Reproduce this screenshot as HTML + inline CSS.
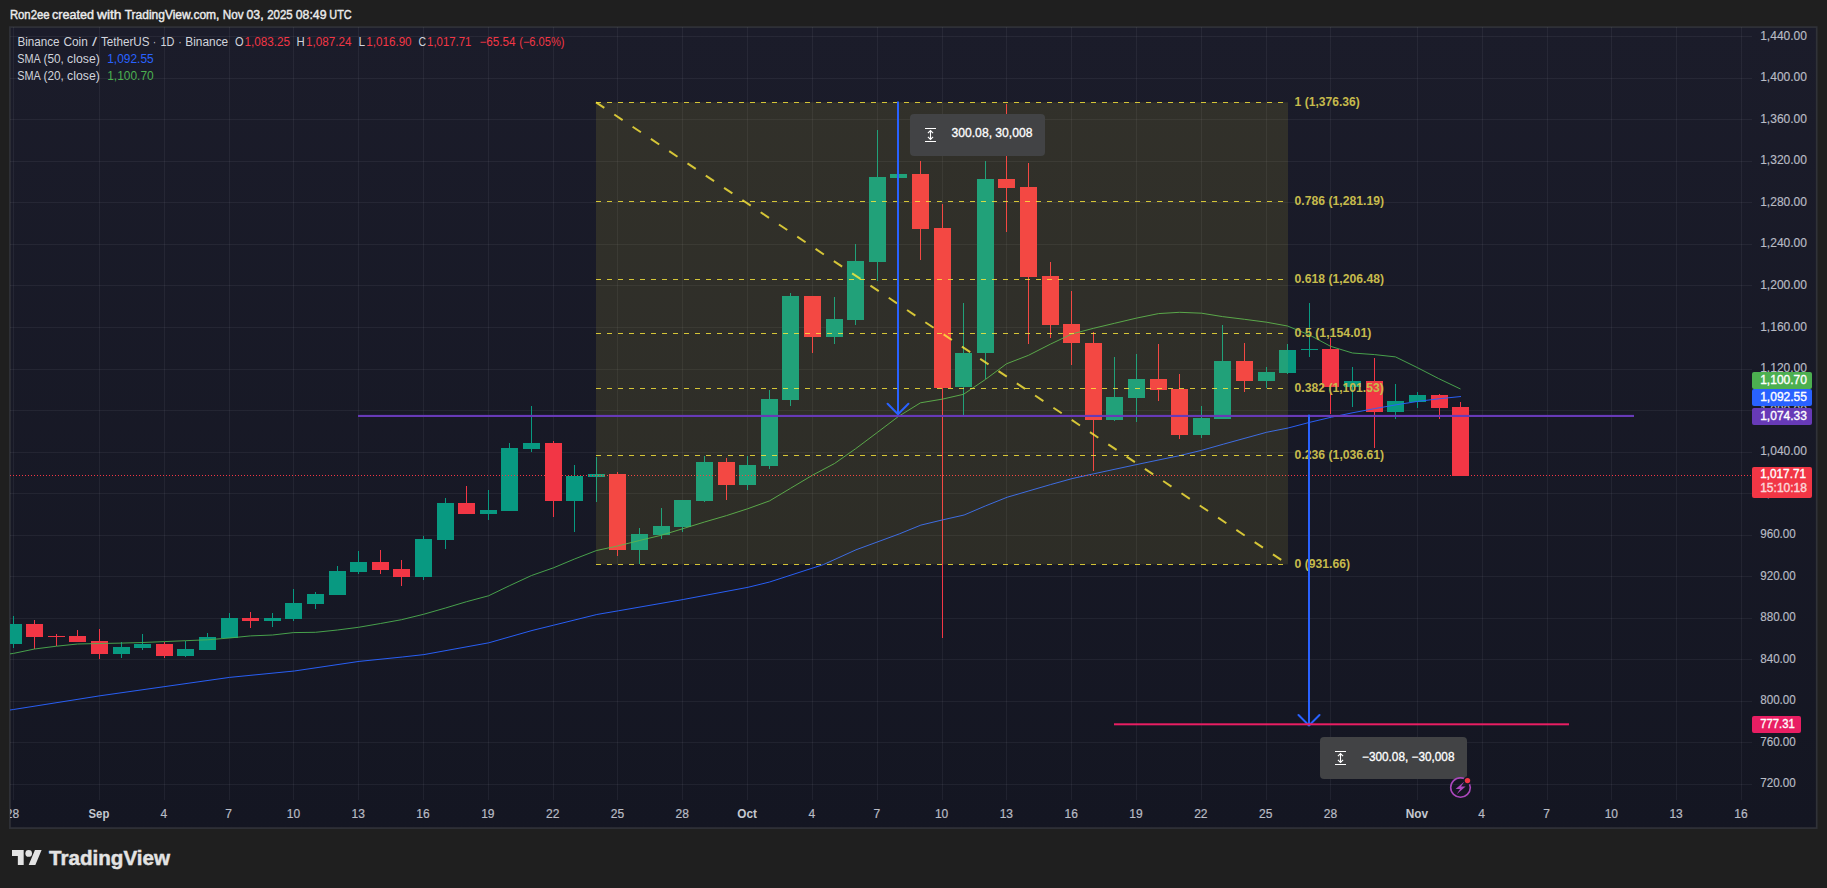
<!DOCTYPE html>
<html lang="en"><head><meta charset="utf-8"><title>BNBUSDT chart</title>
<style>html,body{margin:0;padding:0;background:#1f1f1f;overflow:hidden}body{width:1827px;height:888px;font-family:"Liberation Sans", sans-serif}svg{display:block;font-family:"Liberation Sans", sans-serif}.ce{shape-rendering:crispEdges}</style></head><body>
<svg width="1827" height="888" viewBox="0 0 1827 888">
<defs><linearGradient id="bg" x1="0" y1="0" x2="0" y2="1"><stop offset="0" stop-color="#1b1c2a"/><stop offset="1" stop-color="#141622"/></linearGradient><clipPath id="cp"><rect x="10" y="27" width="1807" height="801"/></clipPath></defs>
<rect width="1827" height="888" fill="#1f1f1f"/>
<rect x="9.9" y="27.1" width="1806.8" height="801" fill="url(#bg)" stroke="#303238" stroke-width="1.7"/>
<text y="18.90" font-size="12" fill="#ececec" stroke="#ececec" stroke-width="0.4"><tspan x="9.90" textLength="39.70" lengthAdjust="spacingAndGlyphs">Ron2ee</tspan> <tspan x="52.10" textLength="41.90" lengthAdjust="spacingAndGlyphs">created</tspan> <tspan x="97.00" textLength="24.50" lengthAdjust="spacingAndGlyphs">with</tspan> <tspan x="124.70" textLength="94.70" lengthAdjust="spacingAndGlyphs">TradingView.com,</tspan> <tspan x="222.80" textLength="20.80" lengthAdjust="spacingAndGlyphs">Nov</tspan> <tspan x="246.50" textLength="17.10" lengthAdjust="spacingAndGlyphs">03,</tspan> <tspan x="267.20" textLength="25.50" lengthAdjust="spacingAndGlyphs">2025</tspan> <tspan x="295.80" textLength="30.70" lengthAdjust="spacingAndGlyphs">08:49</tspan> <tspan x="329.30" textLength="22.30" lengthAdjust="spacingAndGlyphs">UTC</tspan></text>
<g class="ce" fill="#f0f3fa" fill-opacity="0.06">
<rect x="13" y="27" width="1" height="773"/>
<rect x="99" y="27" width="1" height="773"/>
<rect x="164" y="27" width="1" height="773"/>
<rect x="229" y="27" width="1" height="773"/>
<rect x="293" y="27" width="1" height="773"/>
<rect x="358" y="27" width="1" height="773"/>
<rect x="423" y="27" width="1" height="773"/>
<rect x="488" y="27" width="1" height="773"/>
<rect x="553" y="27" width="1" height="773"/>
<rect x="617" y="27" width="1" height="773"/>
<rect x="682" y="27" width="1" height="773"/>
<rect x="747" y="27" width="1" height="773"/>
<rect x="812" y="27" width="1" height="773"/>
<rect x="877" y="27" width="1" height="773"/>
<rect x="942" y="27" width="1" height="773"/>
<rect x="1006" y="27" width="1" height="773"/>
<rect x="1071" y="27" width="1" height="773"/>
<rect x="1136" y="27" width="1" height="773"/>
<rect x="1201" y="27" width="1" height="773"/>
<rect x="1266" y="27" width="1" height="773"/>
<rect x="1330" y="27" width="1" height="773"/>
<rect x="1417" y="27" width="1" height="773"/>
<rect x="1482" y="27" width="1" height="773"/>
<rect x="1547" y="27" width="1" height="773"/>
<rect x="1611" y="27" width="1" height="773"/>
<rect x="1676" y="27" width="1" height="773"/>
<rect x="1741" y="27" width="1" height="773"/>
<rect x="10" y="784" width="1742" height="1"/>
<rect x="10" y="742" width="1742" height="1"/>
<rect x="10" y="701" width="1742" height="1"/>
<rect x="10" y="659" width="1742" height="1"/>
<rect x="10" y="618" width="1742" height="1"/>
<rect x="10" y="576" width="1742" height="1"/>
<rect x="10" y="535" width="1742" height="1"/>
<rect x="10" y="493" width="1742" height="1"/>
<rect x="10" y="452" width="1742" height="1"/>
<rect x="10" y="410" width="1742" height="1"/>
<rect x="10" y="369" width="1742" height="1"/>
<rect x="10" y="327" width="1742" height="1"/>
<rect x="10" y="285" width="1742" height="1"/>
<rect x="10" y="244" width="1742" height="1"/>
<rect x="10" y="202" width="1742" height="1"/>
<rect x="10" y="161" width="1742" height="1"/>
<rect x="10" y="119" width="1742" height="1"/>
<rect x="10" y="78" width="1742" height="1"/>
<rect x="10" y="36" width="1742" height="1"/>
</g>
<g clip-path="url(#cp)">
<g class="ce">
<rect x="13" y="616" width="1" height="32" fill="#089981"/>
<rect x="5" y="624" width="17" height="20" fill="#089981"/>
<rect x="34" y="620" width="1" height="29" fill="#f23645"/>
<rect x="26" y="624" width="17" height="13" fill="#f23645"/>
<rect x="56" y="634" width="1" height="12" fill="#f23645"/>
<rect x="48" y="636" width="17" height="1" fill="#f23645"/>
<rect x="77" y="630" width="1" height="12" fill="#f23645"/>
<rect x="69" y="636" width="17" height="6" fill="#f23645"/>
<rect x="99" y="629" width="1" height="30" fill="#f23645"/>
<rect x="91" y="641" width="17" height="13" fill="#f23645"/>
<rect x="121" y="642" width="1" height="16" fill="#089981"/>
<rect x="113" y="647" width="17" height="7" fill="#089981"/>
<rect x="142" y="634" width="1" height="16" fill="#089981"/>
<rect x="134" y="644" width="17" height="4" fill="#089981"/>
<rect x="164" y="642" width="1" height="16" fill="#f23645"/>
<rect x="156" y="644" width="17" height="12" fill="#f23645"/>
<rect x="185" y="641" width="1" height="16" fill="#089981"/>
<rect x="177" y="649" width="17" height="7" fill="#089981"/>
<rect x="207" y="633" width="1" height="17" fill="#089981"/>
<rect x="199" y="637" width="17" height="13" fill="#089981"/>
<rect x="229" y="613" width="1" height="25" fill="#089981"/>
<rect x="221" y="618" width="17" height="20" fill="#089981"/>
<rect x="250" y="612" width="1" height="16" fill="#f23645"/>
<rect x="242" y="618" width="17" height="3" fill="#f23645"/>
<rect x="272" y="613" width="1" height="14" fill="#089981"/>
<rect x="264" y="618" width="17" height="3" fill="#089981"/>
<rect x="293" y="589" width="1" height="32" fill="#089981"/>
<rect x="285" y="603" width="17" height="16" fill="#089981"/>
<rect x="315" y="592" width="1" height="17" fill="#089981"/>
<rect x="307" y="594" width="17" height="10" fill="#089981"/>
<rect x="337" y="566" width="1" height="29" fill="#089981"/>
<rect x="329" y="571" width="17" height="24" fill="#089981"/>
<rect x="358" y="551" width="1" height="23" fill="#089981"/>
<rect x="350" y="562" width="17" height="10" fill="#089981"/>
<rect x="380" y="550" width="1" height="24" fill="#f23645"/>
<rect x="372" y="562" width="17" height="8" fill="#f23645"/>
<rect x="401" y="560" width="1" height="26" fill="#f23645"/>
<rect x="393" y="569" width="17" height="8" fill="#f23645"/>
<rect x="423" y="536" width="1" height="44" fill="#089981"/>
<rect x="415" y="539" width="17" height="38" fill="#089981"/>
<rect x="445" y="498" width="1" height="51" fill="#089981"/>
<rect x="437" y="503" width="17" height="37" fill="#089981"/>
<rect x="466" y="486" width="1" height="28" fill="#f23645"/>
<rect x="458" y="503" width="17" height="11" fill="#f23645"/>
<rect x="488" y="490" width="1" height="30" fill="#089981"/>
<rect x="480" y="510" width="17" height="4" fill="#089981"/>
<rect x="509" y="443" width="1" height="68" fill="#089981"/>
<rect x="501" y="448" width="17" height="63" fill="#089981"/>
<rect x="531" y="406" width="1" height="46" fill="#089981"/>
<rect x="523" y="443" width="17" height="6" fill="#089981"/>
<rect x="553" y="441" width="1" height="76" fill="#f23645"/>
<rect x="545" y="443" width="17" height="58" fill="#f23645"/>
<rect x="574" y="465" width="1" height="67" fill="#089981"/>
<rect x="566" y="476" width="17" height="25" fill="#089981"/>
<rect x="596" y="457" width="1" height="45" fill="#089981"/>
<rect x="588" y="474" width="17" height="3" fill="#089981"/>
<rect x="617" y="472" width="1" height="84" fill="#f23645"/>
<rect x="609" y="474" width="17" height="76" fill="#f23645"/>
<rect x="639" y="528" width="1" height="36" fill="#089981"/>
<rect x="631" y="534" width="17" height="16" fill="#089981"/>
<rect x="661" y="508" width="1" height="31" fill="#089981"/>
<rect x="653" y="526" width="17" height="9" fill="#089981"/>
<rect x="682" y="500" width="1" height="32" fill="#089981"/>
<rect x="674" y="500" width="17" height="27" fill="#089981"/>
<rect x="704" y="456" width="1" height="46" fill="#089981"/>
<rect x="696" y="462" width="17" height="39" fill="#089981"/>
<rect x="726" y="458" width="1" height="42" fill="#f23645"/>
<rect x="718" y="462" width="17" height="23" fill="#f23645"/>
<rect x="747" y="456" width="1" height="34" fill="#089981"/>
<rect x="739" y="465" width="17" height="20" fill="#089981"/>
<rect x="769" y="390" width="1" height="79" fill="#089981"/>
<rect x="761" y="399" width="17" height="67" fill="#089981"/>
<rect x="790" y="293" width="1" height="113" fill="#089981"/>
<rect x="782" y="296" width="17" height="104" fill="#089981"/>
<rect x="812" y="296" width="1" height="57" fill="#f23645"/>
<rect x="804" y="296" width="17" height="41" fill="#f23645"/>
<rect x="834" y="297" width="1" height="47" fill="#089981"/>
<rect x="826" y="319" width="17" height="18" fill="#089981"/>
<rect x="855" y="244" width="1" height="81" fill="#089981"/>
<rect x="847" y="261" width="17" height="59" fill="#089981"/>
<rect x="877" y="130" width="1" height="151" fill="#089981"/>
<rect x="869" y="177" width="17" height="85" fill="#089981"/>
<rect x="898" y="174" width="1" height="4" fill="#089981"/>
<rect x="890" y="174" width="17" height="4" fill="#089981"/>
<rect x="920" y="161" width="1" height="99" fill="#f23645"/>
<rect x="912" y="174" width="17" height="55" fill="#f23645"/>
<rect x="942" y="204" width="1" height="434" fill="#f23645"/>
<rect x="934" y="228" width="17" height="160" fill="#f23645"/>
<rect x="963" y="303" width="1" height="112" fill="#089981"/>
<rect x="955" y="353" width="17" height="34" fill="#089981"/>
<rect x="985" y="161" width="1" height="218" fill="#089981"/>
<rect x="977" y="179" width="17" height="174" fill="#089981"/>
<rect x="1006" y="104" width="1" height="128" fill="#f23645"/>
<rect x="998" y="179" width="17" height="9" fill="#f23645"/>
<rect x="1028" y="163" width="1" height="181" fill="#f23645"/>
<rect x="1020" y="187" width="17" height="90" fill="#f23645"/>
<rect x="1050" y="262" width="1" height="76" fill="#f23645"/>
<rect x="1042" y="276" width="17" height="49" fill="#f23645"/>
<rect x="1071" y="291" width="1" height="74" fill="#f23645"/>
<rect x="1063" y="324" width="17" height="19" fill="#f23645"/>
<rect x="1093" y="332" width="1" height="139" fill="#f23645"/>
<rect x="1085" y="343" width="17" height="77" fill="#f23645"/>
<rect x="1114" y="357" width="1" height="64" fill="#089981"/>
<rect x="1106" y="397" width="17" height="23" fill="#089981"/>
<rect x="1136" y="354" width="1" height="68" fill="#089981"/>
<rect x="1128" y="379" width="17" height="19" fill="#089981"/>
<rect x="1158" y="344" width="1" height="57" fill="#f23645"/>
<rect x="1150" y="379" width="17" height="11" fill="#f23645"/>
<rect x="1179" y="374" width="1" height="65" fill="#f23645"/>
<rect x="1171" y="389" width="17" height="46" fill="#f23645"/>
<rect x="1201" y="406" width="1" height="32" fill="#089981"/>
<rect x="1193" y="418" width="17" height="17" fill="#089981"/>
<rect x="1222" y="325" width="1" height="94" fill="#089981"/>
<rect x="1214" y="361" width="17" height="58" fill="#089981"/>
<rect x="1244" y="343" width="1" height="49" fill="#f23645"/>
<rect x="1236" y="361" width="17" height="20" fill="#f23645"/>
<rect x="1266" y="367" width="1" height="21" fill="#089981"/>
<rect x="1258" y="372" width="17" height="9" fill="#089981"/>
<rect x="1287" y="344" width="1" height="30" fill="#089981"/>
<rect x="1279" y="350" width="17" height="23" fill="#089981"/>
<rect x="1309" y="303" width="1" height="54" fill="#089981"/>
<rect x="1301" y="349" width="17" height="1" fill="#089981"/>
<rect x="1330" y="338" width="1" height="76" fill="#f23645"/>
<rect x="1322" y="349" width="17" height="38" fill="#f23645"/>
<rect x="1352" y="367" width="1" height="40" fill="#089981"/>
<rect x="1344" y="381" width="17" height="6" fill="#089981"/>
<rect x="1374" y="358" width="1" height="90" fill="#f23645"/>
<rect x="1366" y="381" width="17" height="31" fill="#f23645"/>
<rect x="1395" y="384" width="1" height="35" fill="#089981"/>
<rect x="1387" y="401" width="17" height="11" fill="#089981"/>
<rect x="1417" y="392" width="1" height="16" fill="#089981"/>
<rect x="1409" y="395" width="17" height="7" fill="#089981"/>
<rect x="1439" y="394" width="1" height="25" fill="#f23645"/>
<rect x="1431" y="395" width="17" height="13" fill="#f23645"/>
<rect x="1460" y="402" width="1" height="74" fill="#f23645"/>
<rect x="1452" y="407" width="17" height="69" fill="#f23645"/>
</g>
<polyline points="10,653.9 13.5,653.4 34.5,649.0 56.5,646.2 77.5,644.0 99.5,643.5 121.5,643.1 142.5,642.5 164.5,641.6 185.5,640.7 207.5,639.8 229.5,638.0 250.5,635.9 272.5,635.0 293.5,632.6 315.5,632.3 337.5,630.0 358.5,627.3 380.5,623.5 401.5,619.7 423.5,614.3 445.5,608.0 466.5,601.7 488.5,595.8 509.5,585.7 531.5,575.5 553.5,567.8 574.5,559.0 596.5,550.5 617.5,546.0 639.5,540.5 661.5,535.2 682.5,528.8 704.5,522.0 726.5,515.6 747.5,508.8 769.5,500.9 790.5,488.3 812.5,475.2 834.5,463.5 855.5,448.8 877.5,432.3 898.5,416.4 920.5,402.8 942.5,399.1 963.5,394.3 985.5,379.4 1006.5,363.8 1028.5,355.3 1050.5,344.1 1071.5,334.1 1093.5,328.3 1114.5,323.3 1136.5,318.1 1158.5,313.6 1179.5,312.3 1201.5,313.2 1222.5,316.6 1244.5,319.3 1266.5,322.2 1287.5,326.0 1309.5,335.0 1330.5,346.3 1352.5,353.0 1374.5,354.6 1395.5,356.9 1417.5,367.7 1438.5,378.5 1460.5,389.0" fill="none" stroke="#4caf50" stroke-width="1" stroke-opacity="0.9" stroke-linejoin="round"/>
<polyline points="10,710.0 13.5,709.5 99.9,695.8 229.5,677.4 294.3,671.0 359.1,661.4 402.3,657.0 423.9,654.6 488.8,642.8 532.0,630.5 553.6,625.2 596.8,614.5 618.4,610.8 683.2,599.5 748.0,587.3 769.6,582.0 823.6,564.5 856.0,549.8 899.3,533.9 920.9,525.1 942.5,519.9 964.1,515.0 985.7,505.8 1007.3,497.2 1028.9,490.9 1050.5,484.6 1072.1,478.6 1093.7,473.8 1136.9,464.5 1180.1,455.5 1201.7,450.3 1223.3,444.2 1266.5,432.3 1288.1,428.0 1309.8,422.3 1331.4,417.2 1353.0,412.7 1374.6,408.6 1396.2,404.8 1417.8,401.4 1439.4,398.7 1461.0,396.5" fill="none" stroke="#2962ff" stroke-width="1" stroke-opacity="0.95" stroke-linejoin="round"/>
<line x1="10" y1="475.5" x2="1752" y2="475.5" stroke="#f23645" stroke-width="1" stroke-dasharray="1 2" class="ce"/>
<rect x="596" y="102.3" width="692" height="462.1" fill="#ffeb3b" fill-opacity="0.1"/>
<g stroke="#ffeb3b" stroke-opacity="0.8" fill="none">
<line x1="596" y1="102.5" x2="1288" y2="102.5" stroke-width="1" stroke-dasharray="5 6" class="ce"/>
<line x1="596" y1="201.5" x2="1288" y2="201.5" stroke-width="1" stroke-dasharray="5 6" class="ce"/>
<line x1="596" y1="279.5" x2="1288" y2="279.5" stroke-width="1" stroke-dasharray="5 6" class="ce"/>
<line x1="596" y1="333.5" x2="1288" y2="333.5" stroke-width="1" stroke-dasharray="5 6" class="ce"/>
<line x1="596" y1="388.5" x2="1288" y2="388.5" stroke-width="1" stroke-dasharray="5 6" class="ce"/>
<line x1="596" y1="455.5" x2="1288" y2="455.5" stroke-width="1" stroke-dasharray="5 6" class="ce"/>
<line x1="596" y1="564.5" x2="1288" y2="564.5" stroke-width="1" stroke-dasharray="5 6" class="ce"/>
<line x1="596" y1="102.3" x2="1288" y2="564.4" stroke-width="2" stroke-dasharray="10 12"/>
</g>
<text x="1294.60" y="105.80" font-size="12" fill="#c6ba4c" font-weight="700" textLength="65.20" lengthAdjust="spacingAndGlyphs">1 (1,376.36)</text>
<text x="1294.60" y="205.00" font-size="12" fill="#c6ba4c" font-weight="700" textLength="89.40" lengthAdjust="spacingAndGlyphs">0.786 (1,281.19)</text>
<text x="1294.60" y="282.70" font-size="12" fill="#c6ba4c" font-weight="700" textLength="89.40" lengthAdjust="spacingAndGlyphs">0.618 (1,206.48)</text>
<text x="1294.60" y="336.80" font-size="12" fill="#c6ba4c" font-weight="700" textLength="76.80" lengthAdjust="spacingAndGlyphs">0.5 (1,154.01)</text>
<text x="1294.60" y="391.70" font-size="12" fill="#c6ba4c" font-weight="700" textLength="89.20" lengthAdjust="spacingAndGlyphs">0.382 (1,101.53)</text>
<text x="1294.60" y="458.90" font-size="12" fill="#c6ba4c" font-weight="700" textLength="89.60" lengthAdjust="spacingAndGlyphs">0.236 (1,036.61)</text>
<text x="1294.60" y="567.90" font-size="12" fill="#c6ba4c" font-weight="700" textLength="55.50" lengthAdjust="spacingAndGlyphs">0 (931.66)</text>
<rect x="358" y="414.9" width="1276" height="2.1" fill="#673ab7"/>
<g stroke="#2962ff" stroke-width="2" fill="none" stroke-linecap="round" stroke-linejoin="round">
<path d="M898 102.3V414M887.6 403.8L898 414.2L908.4 403.8"/>
<path d="M1309 415.5V725.5M1298.5 715L1309 725.5L1319.5 715"/>
</g>
<rect x="1114" y="723.3" width="455" height="2" fill="#e91e63"/>
<rect x="910" y="114" width="135" height="42" rx="4" fill="#424345"/>
<g stroke="#fff" stroke-width="1.1" fill="none"><path d="M925.0 128.5h11M925.0 141.5h11M930.5 130.6v8.8M927.9 133.1l2.6 -2.6l2.6 2.6M927.9 136.9l2.6 2.6l2.6 -2.6"/></g>
<text x="951.50" y="136.90" font-size="12" fill="#ffffff" textLength="81.00" lengthAdjust="spacingAndGlyphs" stroke="#fff" stroke-width="0.3">300.08, 30,008</text>
<rect x="1320" y="737" width="147" height="42" rx="4" fill="#424345"/>
<g stroke="#fff" stroke-width="1.1" fill="none"><path d="M1335.0 751.5h11M1335.0 764.5h11M1340.5 753.6v8.8M1337.9 756.1l2.6 -2.6l2.6 2.6M1337.9 759.9l2.6 2.6l2.6 -2.6"/></g>
<text x="1362.00" y="760.90" font-size="12" fill="#ffffff" textLength="92.50" lengthAdjust="spacingAndGlyphs" stroke="#fff" stroke-width="0.3">−300.08, −30,008</text>
<g><circle cx="1460.5" cy="787.5" r="9.8" fill="none" stroke="#ab47bc" stroke-width="1.6"/><path d="M1464.4 781.6L1455.6 788.9H1460.1L1456.7 794.2L1465.6 786.6H1461Z" fill="#ab47bc"/><circle cx="1467.5" cy="780.6" r="4.2" fill="#161824"/><circle cx="1467.5" cy="780.6" r="2.7" fill="#f23645"/></g>
</g>
<text y="45.90" font-size="12" fill="#d1d4dc"><tspan x="17.40" textLength="42.20" lengthAdjust="spacingAndGlyphs">Binance</tspan> <tspan x="63.40" textLength="24.40" lengthAdjust="spacingAndGlyphs">Coin</tspan> <tspan x="92.10" textLength="5.00" lengthAdjust="spacingAndGlyphs">/</tspan> <tspan x="100.90" textLength="48.60" lengthAdjust="spacingAndGlyphs">TetherUS</tspan> <tspan x="152.90" textLength="3.00" lengthAdjust="spacingAndGlyphs">·</tspan> <tspan x="160.50" textLength="14.00" lengthAdjust="spacingAndGlyphs">1D</tspan> <tspan x="178.50" textLength="3.00" lengthAdjust="spacingAndGlyphs">·</tspan> <tspan x="185.30" textLength="42.90" lengthAdjust="spacingAndGlyphs">Binance</tspan></text>
<text x="235.00" y="45.90" font-size="12" fill="#d1d4dc" textLength="8.60" lengthAdjust="spacingAndGlyphs">O</text>
<text x="244.60" y="45.90" font-size="12" fill="#f23645" textLength="45.50" lengthAdjust="spacingAndGlyphs">1,083.25</text>
<text x="296.60" y="45.90" font-size="12" fill="#d1d4dc" textLength="8.20" lengthAdjust="spacingAndGlyphs">H</text>
<text x="306.00" y="45.90" font-size="12" fill="#f23645" textLength="45.50" lengthAdjust="spacingAndGlyphs">1,087.24</text>
<text x="358.60" y="45.90" font-size="12" fill="#d1d4dc" textLength="6.60" lengthAdjust="spacingAndGlyphs">L</text>
<text x="366.30" y="45.90" font-size="12" fill="#f23645" textLength="45.30" lengthAdjust="spacingAndGlyphs">1,016.90</text>
<text x="418.60" y="45.90" font-size="12" fill="#d1d4dc" textLength="7.60" lengthAdjust="spacingAndGlyphs">C</text>
<text x="427.10" y="45.90" font-size="12" fill="#f23645" textLength="44.20" lengthAdjust="spacingAndGlyphs">1,017.71</text>
<text y="45.90" font-size="12" fill="#f23645"><tspan x="479.50" textLength="36.10" lengthAdjust="spacingAndGlyphs">−65.54</tspan> <tspan x="519.20" textLength="45.30" lengthAdjust="spacingAndGlyphs">(−6.05%)</tspan></text>
<text y="62.80" font-size="12" fill="#d1d4dc"><tspan x="17.30" textLength="22.90" lengthAdjust="spacingAndGlyphs">SMA</tspan> <tspan x="43.50" textLength="20.30" lengthAdjust="spacingAndGlyphs">(50,</tspan> <tspan x="67.10" textLength="32.70" lengthAdjust="spacingAndGlyphs">close)</tspan></text>
<text x="107.20" y="62.80" font-size="12" fill="#2962ff" textLength="46.50" lengthAdjust="spacingAndGlyphs">1,092.55</text>
<text y="79.70" font-size="12" fill="#d1d4dc"><tspan x="17.30" textLength="22.90" lengthAdjust="spacingAndGlyphs">SMA</tspan> <tspan x="43.50" textLength="20.30" lengthAdjust="spacingAndGlyphs">(20,</tspan> <tspan x="67.10" textLength="32.70" lengthAdjust="spacingAndGlyphs">close)</tspan></text>
<text x="107.20" y="79.70" font-size="12" fill="#4caf50" textLength="46.50" lengthAdjust="spacingAndGlyphs">1,100.70</text>
<text x="1760.20" y="787.30" font-size="12" fill="#b9bcc5" textLength="35.60" lengthAdjust="spacingAndGlyphs" stroke="#b9bcc5" stroke-width="0.15">720.00</text>
<text x="1760.20" y="745.78" font-size="12" fill="#b9bcc5" textLength="35.60" lengthAdjust="spacingAndGlyphs" stroke="#b9bcc5" stroke-width="0.15">760.00</text>
<text x="1760.20" y="704.25" font-size="12" fill="#b9bcc5" textLength="35.60" lengthAdjust="spacingAndGlyphs" stroke="#b9bcc5" stroke-width="0.15">800.00</text>
<text x="1760.20" y="662.72" font-size="12" fill="#b9bcc5" textLength="35.60" lengthAdjust="spacingAndGlyphs" stroke="#b9bcc5" stroke-width="0.15">840.00</text>
<text x="1760.20" y="621.19" font-size="12" fill="#b9bcc5" textLength="35.60" lengthAdjust="spacingAndGlyphs" stroke="#b9bcc5" stroke-width="0.15">880.00</text>
<text x="1760.20" y="579.66" font-size="12" fill="#b9bcc5" textLength="35.60" lengthAdjust="spacingAndGlyphs" stroke="#b9bcc5" stroke-width="0.15">920.00</text>
<text x="1760.20" y="538.14" font-size="12" fill="#b9bcc5" textLength="35.60" lengthAdjust="spacingAndGlyphs" stroke="#b9bcc5" stroke-width="0.15">960.00</text>
<text x="1760.20" y="496.61" font-size="12" fill="#b9bcc5" textLength="46.80" lengthAdjust="spacingAndGlyphs" stroke="#b9bcc5" stroke-width="0.15">1,000.00</text>
<text x="1760.20" y="455.08" font-size="12" fill="#b9bcc5" textLength="46.80" lengthAdjust="spacingAndGlyphs" stroke="#b9bcc5" stroke-width="0.15">1,040.00</text>
<text x="1760.20" y="413.55" font-size="12" fill="#b9bcc5" textLength="46.80" lengthAdjust="spacingAndGlyphs" stroke="#b9bcc5" stroke-width="0.15">1,080.00</text>
<text x="1760.20" y="372.02" font-size="12" fill="#b9bcc5" textLength="46.80" lengthAdjust="spacingAndGlyphs" stroke="#b9bcc5" stroke-width="0.15">1,120.00</text>
<text x="1760.20" y="330.50" font-size="12" fill="#b9bcc5" textLength="46.80" lengthAdjust="spacingAndGlyphs" stroke="#b9bcc5" stroke-width="0.15">1,160.00</text>
<text x="1760.20" y="288.97" font-size="12" fill="#b9bcc5" textLength="46.80" lengthAdjust="spacingAndGlyphs" stroke="#b9bcc5" stroke-width="0.15">1,200.00</text>
<text x="1760.20" y="247.44" font-size="12" fill="#b9bcc5" textLength="46.80" lengthAdjust="spacingAndGlyphs" stroke="#b9bcc5" stroke-width="0.15">1,240.00</text>
<text x="1760.20" y="205.91" font-size="12" fill="#b9bcc5" textLength="46.80" lengthAdjust="spacingAndGlyphs" stroke="#b9bcc5" stroke-width="0.15">1,280.00</text>
<text x="1760.20" y="164.38" font-size="12" fill="#b9bcc5" textLength="46.80" lengthAdjust="spacingAndGlyphs" stroke="#b9bcc5" stroke-width="0.15">1,320.00</text>
<text x="1760.20" y="122.86" font-size="12" fill="#b9bcc5" textLength="46.80" lengthAdjust="spacingAndGlyphs" stroke="#b9bcc5" stroke-width="0.15">1,360.00</text>
<text x="1760.20" y="81.33" font-size="12" fill="#b9bcc5" textLength="46.80" lengthAdjust="spacingAndGlyphs" stroke="#b9bcc5" stroke-width="0.15">1,400.00</text>
<text x="1760.20" y="39.80" font-size="12" fill="#b9bcc5" textLength="46.80" lengthAdjust="spacingAndGlyphs" stroke="#b9bcc5" stroke-width="0.15">1,440.00</text>
<rect x="1752" y="372" width="60" height="17" rx="2" fill="#4caf50"/>
<text x="1760.20" y="383.60" font-size="12" fill="#ffffff" textLength="46.80" lengthAdjust="spacingAndGlyphs" stroke="#fff" stroke-width="0.35">1,100.70</text>
<rect x="1752" y="389" width="60" height="17" rx="2" fill="#2962ff"/>
<text x="1760.20" y="400.60" font-size="12" fill="#ffffff" textLength="46.80" lengthAdjust="spacingAndGlyphs" stroke="#fff" stroke-width="0.35">1,092.55</text>
<rect x="1752" y="408" width="60" height="17" rx="2" fill="#673ab7"/>
<text x="1760.20" y="419.60" font-size="12" fill="#ffffff" textLength="46.80" lengthAdjust="spacingAndGlyphs" stroke="#fff" stroke-width="0.35">1,074.33</text>
<rect x="1752" y="467" width="60" height="31" rx="2" fill="#f23645"/>
<text x="1760.20" y="477.70" font-size="12" fill="#ffffff" textLength="45.80" lengthAdjust="spacingAndGlyphs" stroke="#fff" stroke-width="0.35">1,017.71</text>
<text x="1760.20" y="491.70" font-size="12" fill="#ffffff" textLength="46.80" lengthAdjust="spacingAndGlyphs" stroke="#fff" stroke-width="0.35" opacity="0.8">15:10:18</text>
<rect x="1752" y="716" width="49" height="17" rx="2" fill="#e91e63"/>
<text x="1760.20" y="727.60" font-size="12" fill="#ffffff" textLength="34.50" lengthAdjust="spacingAndGlyphs" stroke="#fff" stroke-width="0.35">777.31</text>
<g clip-path="url(#cp)">
<text x="12.55" y="818.10" font-size="12" fill="#b9bcc5" text-anchor="middle" stroke="#b9bcc5" stroke-width="0.2">28</text>
<text x="98.97" y="818.10" font-size="12" fill="#c5c8d0" font-weight="700" text-anchor="middle" textLength="20.80" lengthAdjust="spacingAndGlyphs">Sep</text>
<text x="163.79" y="818.10" font-size="12" fill="#b9bcc5" text-anchor="middle" stroke="#b9bcc5" stroke-width="0.2">4</text>
<text x="228.60" y="818.10" font-size="12" fill="#b9bcc5" text-anchor="middle" stroke="#b9bcc5" stroke-width="0.2">7</text>
<text x="293.42" y="818.10" font-size="12" fill="#b9bcc5" text-anchor="middle" stroke="#b9bcc5" stroke-width="0.2">10</text>
<text x="358.23" y="818.10" font-size="12" fill="#b9bcc5" text-anchor="middle" stroke="#b9bcc5" stroke-width="0.2">13</text>
<text x="423.05" y="818.10" font-size="12" fill="#b9bcc5" text-anchor="middle" stroke="#b9bcc5" stroke-width="0.2">16</text>
<text x="487.86" y="818.10" font-size="12" fill="#b9bcc5" text-anchor="middle" stroke="#b9bcc5" stroke-width="0.2">19</text>
<text x="552.67" y="818.10" font-size="12" fill="#b9bcc5" text-anchor="middle" stroke="#b9bcc5" stroke-width="0.2">22</text>
<text x="617.49" y="818.10" font-size="12" fill="#b9bcc5" text-anchor="middle" stroke="#b9bcc5" stroke-width="0.2">25</text>
<text x="682.30" y="818.10" font-size="12" fill="#b9bcc5" text-anchor="middle" stroke="#b9bcc5" stroke-width="0.2">28</text>
<text x="747.12" y="818.10" font-size="12" fill="#c5c8d0" font-weight="700" text-anchor="middle" textLength="19.60" lengthAdjust="spacingAndGlyphs">Oct</text>
<text x="811.93" y="818.10" font-size="12" fill="#b9bcc5" text-anchor="middle" stroke="#b9bcc5" stroke-width="0.2">4</text>
<text x="876.75" y="818.10" font-size="12" fill="#b9bcc5" text-anchor="middle" stroke="#b9bcc5" stroke-width="0.2">7</text>
<text x="941.56" y="818.10" font-size="12" fill="#b9bcc5" text-anchor="middle" stroke="#b9bcc5" stroke-width="0.2">10</text>
<text x="1006.38" y="818.10" font-size="12" fill="#b9bcc5" text-anchor="middle" stroke="#b9bcc5" stroke-width="0.2">13</text>
<text x="1071.19" y="818.10" font-size="12" fill="#b9bcc5" text-anchor="middle" stroke="#b9bcc5" stroke-width="0.2">16</text>
<text x="1136.01" y="818.10" font-size="12" fill="#b9bcc5" text-anchor="middle" stroke="#b9bcc5" stroke-width="0.2">19</text>
<text x="1200.83" y="818.10" font-size="12" fill="#b9bcc5" text-anchor="middle" stroke="#b9bcc5" stroke-width="0.2">22</text>
<text x="1265.64" y="818.10" font-size="12" fill="#b9bcc5" text-anchor="middle" stroke="#b9bcc5" stroke-width="0.2">25</text>
<text x="1330.45" y="818.10" font-size="12" fill="#b9bcc5" text-anchor="middle" stroke="#b9bcc5" stroke-width="0.2">28</text>
<text x="1416.88" y="818.10" font-size="12" fill="#c5c8d0" font-weight="700" text-anchor="middle" textLength="22.40" lengthAdjust="spacingAndGlyphs">Nov</text>
<text x="1481.69" y="818.10" font-size="12" fill="#b9bcc5" text-anchor="middle" stroke="#b9bcc5" stroke-width="0.2">4</text>
<text x="1546.50" y="818.10" font-size="12" fill="#b9bcc5" text-anchor="middle" stroke="#b9bcc5" stroke-width="0.2">7</text>
<text x="1611.32" y="818.10" font-size="12" fill="#b9bcc5" text-anchor="middle" stroke="#b9bcc5" stroke-width="0.2">10</text>
<text x="1676.13" y="818.10" font-size="12" fill="#b9bcc5" text-anchor="middle" stroke="#b9bcc5" stroke-width="0.2">13</text>
<text x="1740.95" y="818.10" font-size="12" fill="#b9bcc5" text-anchor="middle" stroke="#b9bcc5" stroke-width="0.2">16</text>
</g>
<g fill="#e3e3e3"><g transform="translate(12 846.76) scale(0.834)"><path d="M14 22H7V11H0V4h14v18zM28 22h-8l7.5-18h8L28 22z"/><circle cx="20" cy="8" r="4"/></g>
<text x="49.00" y="864.90" font-size="20.2" fill="#e3e3e3" font-weight="700" textLength="121.00" lengthAdjust="spacingAndGlyphs" stroke="#e3e3e3" stroke-width="0.45">TradingView</text>
</g>
</svg></body></html>
